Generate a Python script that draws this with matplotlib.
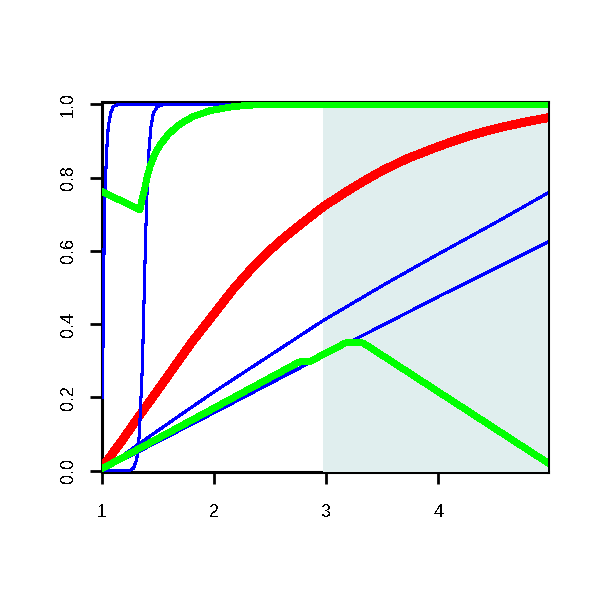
import matplotlib
matplotlib.use("Agg")
import matplotlib.pyplot as plt

# curves (x, y pairs)
red_x = [1.0, 1.16, 1.339, 1.577, 1.80, 2.004, 2.172, 2.32, 2.469, 2.62, 2.766, 2.974, 3.212,
         3.36, 3.51, 3.73, 3.956, 4.10, 4.253, 4.40, 4.55, 4.76, 4.98]
red_y = [0.008, 0.074, 0.152, 0.254, 0.350, 0.430, 0.496, 0.547, 0.594, 0.635, 0.671, 0.721, 0.768,
         0.795, 0.821, 0.853, 0.880, 0.896, 0.912, 0.925, 0.937, 0.951, 0.964]

blue_up_x = [1.0, 1.339, 1.7, 2.0, 2.5, 2.974, 3.5, 3.956, 4.55, 4.98]
blue_up_y = [0.0, 0.075, 0.152, 0.215, 0.315, 0.410, 0.505, 0.584, 0.684, 0.759]

blue_low_x = [1.0, 2.0, 3.0, 4.0, 4.98]
blue_low_y = [0.0, 0.158, 0.318, 0.475, 0.625]

blue_fast_x = [1.0, 1.006, 1.012, 1.024, 1.042, 1.056, 1.077, 1.10, 1.146, 4.98]
blue_fast_y = [0.20, 0.238, 0.466, 0.739, 0.876, 0.940, 0.976, 0.994, 1.0, 1.0]

blue_step_x = [1.0, 1.244, 1.28, 1.309, 1.324, 1.333, 1.36, 1.375, 1.39, 1.404, 1.419,
               1.437, 1.458, 1.494, 1.547, 4.98]
blue_step_y = [0.0, 0.0, 0.006, 0.029, 0.065, 0.10, 0.284, 0.466, 0.648, 0.785, 0.876,
               0.940, 0.976, 0.994, 0.999, 1.0]

green_up_x = [1.0, 1.339, 1.36, 1.384, 1.405, 1.428, 1.47, 1.517, 1.59, 1.666, 1.74, 1.814,
              1.963, 2.169, 2.41, 4.98]
green_up_y = [0.762, 0.712, 0.745, 0.775, 0.805, 0.830, 0.864, 0.889, 0.918, 0.939, 0.955, 0.967,
              0.983, 0.994, 1.0, 1.0]

green_low_x = [1.0, 2.737, 2.766, 2.855, 3.168, 3.20, 3.30, 3.331, 4.98]
green_low_y = [0.005, 0.293, 0.297, 0.298, 0.348, 0.350, 0.350, 0.348, 0.020]

shade_start = 2.974

xticks = [1, 2, 3, 4]
yticks = [0.0, 0.2, 0.4, 0.6, 0.8, 1.0]
ytick_labels = ["0.0", "0.2", "0.4", "0.6", "0.8", "1.0"]

# %%
plt.rcParams['font.family'] = ['Liberation Sans', 'DejaVu Sans']
plt.rcParams['font.size'] = 13
plt.rcParams['text.antialiased'] = False  # reference is drawn without smoothing

fig = plt.figure(figsize=(6, 6), dpi=100)
ax = fig.add_axes([102 / 600, 1 - 472 / 600, 446.3 / 600, 370.5 / 600])
ax.set_xlim(1.0, 4.98)
ax.set_ylim(-0.004, 1.008)

# shaded band (drawn over the inner half of the frame)
ax.axvspan(shade_start, 6, color='#E0EEEE', zorder=1, lw=0)

ax.plot(red_x, red_y, color='#FF0000', lw=5.6, zorder=2, solid_capstyle='butt', antialiased=False)
for xs, ys in [(blue_up_x, blue_up_y), (blue_low_x, blue_low_y),
               (blue_fast_x, blue_fast_y), (blue_step_x, blue_step_y)]:
    ax.plot(xs, ys, color='#0000FF', lw=1.5, zorder=3, antialiased=False)
ax.plot(green_up_x, green_up_y, color='#00FF00', lw=4.2, zorder=4,
        solid_joinstyle='round', antialiased=False)
ax.plot(green_low_x, green_low_y, color='#00FF00', lw=4.2, zorder=4,
        solid_joinstyle='round', antialiased=False)

for s in ax.spines.values():
    s.set_linewidth(2.2)
    s.set_zorder(0.5)

ax.set_xticks(xticks)
ax.set_xticklabels([str(t) for t in xticks], fontsize=13)
ax.set_yticks(yticks)
ax.set_yticklabels(ytick_labels, rotation=90, va='center', fontsize=13)
ax.tick_params(axis='both', direction='out', length=8.5, width=2)
ax.tick_params(axis='x', pad=14.5)
ax.tick_params(axis='y', pad=9.5)

fig.savefig('out.png', dpi=100)
